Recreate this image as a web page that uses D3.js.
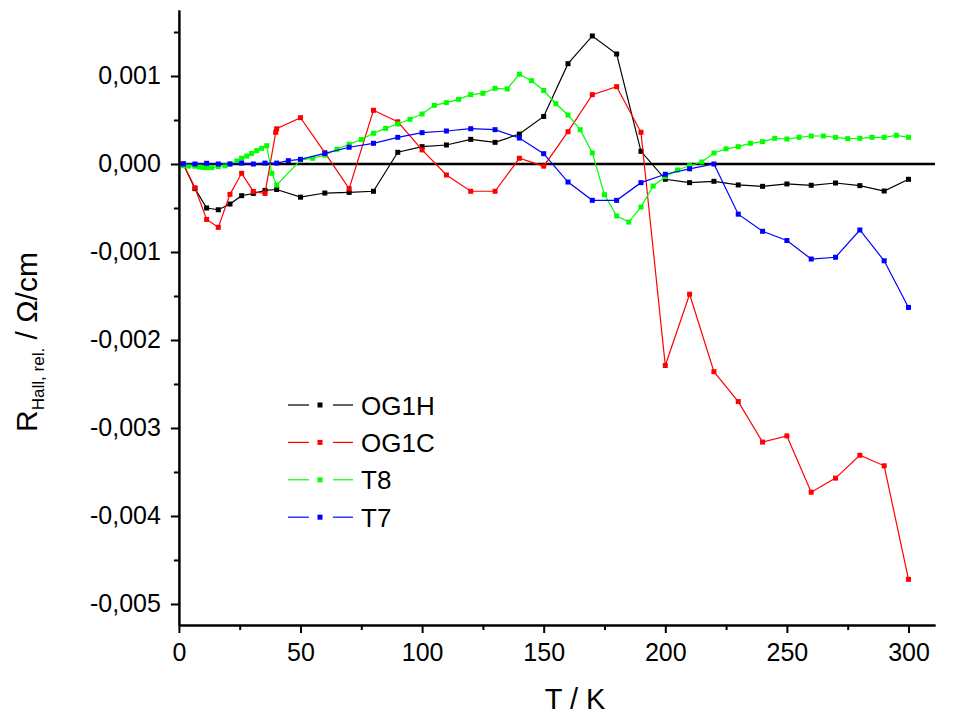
<!DOCTYPE html>
<html><head><meta charset="utf-8">
<script src="https://cdn.jsdelivr.net/npm/d3@7"></script>
<style>
html,body{margin:0;padding:0;background:#fff;}
svg{display:block;font-family:"Liberation Sans",Arial,sans-serif;}
</style></head>
<body><svg id="c" width="963" height="717"></svg>
<script>
// ---- data ----
const seriesNames = ["OG1H", "OG1C", "T8", "T7"];
const seriesColors = ["#000000", "#ff0000", "#00ff00", "#0000ff"];

const tOG1H = [1.8, 6.6, 11.4, 16.2, 21, 25.8, 30.6, 35.4, 40.2, 50, 60, 70, 80, 90, 100, 110, 120, 130, 140, 150, 160, 170, 180, 190, 200, 210, 220, 230, 240, 250, 260, 270, 280, 290, 300];
const rOG1H = [0, -0.00028, -0.0005, -0.00052, -0.000455, -0.00036, -0.000335, -0.0003, -0.00029, -0.000377, -0.00033, -0.000323, -0.00031, 0.000133, 0.000197, 0.000216, 0.00028, 0.000246, 0.00034, 0.00054, 0.00114, 0.001455, 0.00125, 0.000144, -0.000174, -0.000212, -0.000197, -0.000238, -0.000254, -0.000227, -0.000242, -0.000216, -0.000246, -0.000307, -0.000174];

const tOG1C = [1.8, 6.6, 11.4, 16.2, 21, 25.8, 30.6, 35.4, 39.8, 40.2, 50, 60, 70, 80, 90, 100, 110, 120, 130, 140, 150, 160, 170, 180, 190, 200, 210, 220, 230, 240, 250, 260, 270, 280, 290, 300];
const rOG1C = [0, -0.00027, -0.00063, -0.00072, -0.000345, -0.000106, -0.000312, -0.000335, 0.00036, 0.0004, 0.000526, 0.00013, -0.00028, 0.00061, 0.00048, 0.00016, -0.000125, -0.00031, -0.00031, 0.000065, -0.000025, 0.000367, 0.000788, 0.000879, 0.00036, -0.00229, -0.00148, -0.00236, -0.0027, -0.00316, -0.00309, -0.00373, -0.00357, -0.00331, -0.00343, -0.00472];

const tT8 = [1.8, 4, 6.6, 8.5, 10, 11.4, 13.5, 16.2, 19, 21, 23.8, 25.8, 27.9, 29.9, 32, 34, 36.1, 38.2, 40.2,
  50, 55, 60, 65, 70, 75, 80, 85, 90, 95, 100, 105, 110, 115, 120, 125, 130, 135, 140, 145, 150, 155, 160, 165, 170, 175, 180, 185, 190, 195, 200, 205, 210, 215, 220, 225, 230, 235, 240, 245, 250, 255, 260, 265, 270, 275, 280, 285, 290, 295, 300];
const rT8 = [-0.00002, -0.000024, -0.000026, -0.000034, -0.00004, -0.000042, -0.000042, -0.00003, -0.00002, 0, 0.000034, 0.000065, 0.00009, 0.00012, 0.000152, 0.000178, 0.000208, -0.000106, -0.00024,
  0.000045, 0.000065, 0.0001, 0.000167, 0.000224, 0.000278, 0.000349, 0.000405, 0.000455, 0.000508, 0.000568, 0.000667, 0.000697, 0.000735, 0.000788, 0.000803, 0.00086, 0.000852, 0.00102, 0.000947, 0.000835, 0.000685, 0.000557, 0.00039, 0.000125, -0.000349, -0.00059, -0.00066, -0.00049, -0.00025, -0.000144, -0.000068, -0.00002, 0.000023, 0.000125, 0.000172, 0.000197, 0.000235, 0.000254, 0.000292, 0.000284, 0.000303, 0.000318, 0.000318, 0.000303, 0.000288, 0.000292, 0.000303, 0.000303, 0.000326, 0.000303];

const tT7 = [1.8, 6.6, 11.4, 16.2, 21, 25.8, 30.6, 35.4, 40.2, 45, 50, 60, 70, 80, 90, 100, 110, 120, 130, 140, 150, 160, 170, 180, 190, 200, 210, 220, 230, 240, 250, 260, 270, 280, 290, 300];
const rT7 = [0, 0, 0.000008, 0, 0, 0.00001, 0, 0.00001, 0.00001, 0.000038, 0.000053, 0.00012, 0.00019, 0.000235, 0.000303, 0.000356, 0.000375, 0.000401, 0.00039, 0.000295, 0.000117, -0.000205, -0.000413, -0.000413, -0.000212, -0.000117, -0.000055, 0, -0.00057, -0.000765, -0.00087, -0.00108, -0.00106, -0.00075, -0.0011, -0.00163];

const xTicks = [0, 50, 100, 150, 200, 250, 300];
const xMinorTicks = [25, 75, 125, 175, 225, 275];
const yTicks = [-0.005, -0.004, -0.003, -0.002, -0.001, 0, 0.001];
const yMinorTicks = [-0.0045, -0.0035, -0.0025, -0.0015, -0.0005, 0.0005, 0.0015];

const xDomain = [0, 310.9];
const yDomain = [-0.005239, 0.00175];

// ---- chart ----
const svg = d3.select("#c");
const L = 178.9, R = 935, T = 10, B = 625;
const x = d3.scaleLinear().domain(xDomain).range([L, R]);
const y = d3.scaleLinear().domain(yDomain).range([B, T]);

const fmtY = d => d3.format(".3f")(d).replace(".", ",").replace("\u2212", "-");

// zero line
svg.append("line").attr("x1", L).attr("x2", R).attr("y1", y(0)).attr("y2", y(0))
  .attr("stroke", "#000").attr("stroke-width", 2.5);

const data = [
  {t: tOG1H, r: rOG1H},
  {t: tOG1C, r: rOG1C},
  {t: tT8, r: rT8},
  {t: tT7, r: rT7}
];

const line = d3.line().x(d => x(d[0])).y(d => y(d[1]));
const ms = 5;
data.forEach((s, i) => {
  const pts = s.t.map((t, k) => [t, s.r[k]]);
  const g = svg.append("g");
  g.append("path").datum(pts).attr("d", line).attr("fill", "none")
    .attr("stroke", seriesColors[i]).attr("stroke-width", 1.2);
  g.selectAll("rect").data(pts).enter().append("rect")
    .attr("x", d => x(d[0]) - ms / 2).attr("y", d => y(d[1]) - ms / 2)
    .attr("width", ms).attr("height", ms).attr("fill", seriesColors[i]);
});

// axes
const yAxis = svg.append("g").attr("transform", `translate(${L},0)`)
  .call(d3.axisLeft(y).tickValues(yTicks).tickFormat(fmtY).tickSize(8).tickSizeOuter(0).tickPadding(10));
const yMinor = svg.append("g").attr("transform", `translate(${L},0)`)
  .call(d3.axisLeft(y).tickValues(yMinorTicks).tickFormat("").tickSize(5).tickSizeOuter(0));
const xAxis = svg.append("g").attr("transform", `translate(0,${B})`)
  .call(d3.axisBottom(x).tickValues(xTicks).tickFormat(d3.format("d")).tickSize(8).tickSizeOuter(0).tickPadding(10));
const xMinor = svg.append("g").attr("transform", `translate(0,${B})`)
  .call(d3.axisBottom(x).tickValues(xMinorTicks).tickFormat("").tickSize(5).tickSizeOuter(0));

[yAxis, yMinor, xAxis, xMinor].forEach(a => {
  a.select(".domain").attr("stroke", "#000").attr("stroke-width", 2);
  a.selectAll(".tick line").attr("stroke", "#000").attr("stroke-width", 2);
});
yAxis.selectAll(".tick text").attr("font-size", 25).attr("fill", "#000")
  .attr("font-family", "'Liberation Sans', Arial, sans-serif");
xAxis.selectAll(".tick text").attr("font-size", 25).attr("fill", "#000")
  .attr("font-family", "'Liberation Sans Narrow', 'Liberation Sans', Arial, sans-serif");

// axis titles
svg.append("text").attr("x", 575).attr("y", 709).attr("text-anchor", "middle")
  .attr("font-size", 29).attr("fill", "#000").text("T / K");

const yt = svg.append("text").attr("transform", "translate(37,342) rotate(-90)")
  .attr("text-anchor", "middle").attr("font-size", 30).attr("fill", "#000");
yt.append("tspan").text("R");
yt.append("tspan").attr("font-size", 17).attr("dy", 7).text("Hall, rel.");
yt.append("tspan").attr("dy", -7).text(" / \u03A9/cm");

// legend
const legY0 = 405, legDy = 37.4;
seriesNames.forEach((n, i) => {
  const yy = legY0 + i * legDy;
  const g = svg.append("g");
  g.append("line").attr("x1", 288).attr("x2", 309).attr("y1", yy).attr("y2", yy)
    .attr("stroke", seriesColors[i]).attr("stroke-width", 1.2);
  g.append("line").attr("x1", 333).attr("x2", 353).attr("y1", yy).attr("y2", yy)
    .attr("stroke", seriesColors[i]).attr("stroke-width", 1.2);
  g.append("rect").attr("x", 320 - ms / 2).attr("y", yy - ms / 2).attr("width", ms).attr("height", ms)
    .attr("fill", seriesColors[i]);
  g.append("text").attr("x", 361).attr("y", yy + 9.5).attr("font-size", 26).attr("fill", "#000").text(n);
});
</script></body></html>
